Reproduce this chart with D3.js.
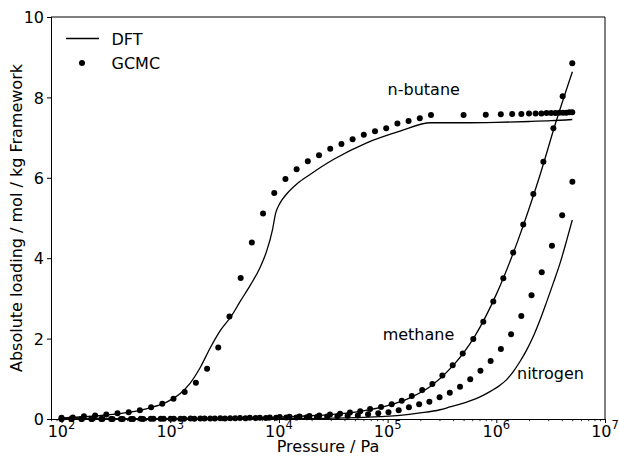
<!DOCTYPE html>
<html>
<head>
<meta charset="utf-8">
<script src="https://cdn.jsdelivr.net/npm/d3@7"></script>
<style>
  html, body { margin: 0; padding: 0; background: #fff; }
  svg { display: block; font-family: "DejaVu Sans", sans-serif; }
</style>
</head>
<body>
<svg id="chart" width="619" height="456"></svg>
<script>
// ---------- data ----------
const xTickValues = [1e2, 1e3, 1e4, 1e5, 1e6, 1e7];
const xTickExponents = ["2", "3", "4", "5", "6", "7"];
const yTickValues = [0, 2, 4, 6, 8, 10];

// n-butane GCMC
const butaneGcmcP = [100, 126.8, 160.7, 203.7, 258.2, 327.3, 415.0, 526.0, 666.8, 845.3,
  1071.5, 1358.3, 1721.9, 2182.7, 2766.9, 3507.5, 4446.3, 5636.4, 7144.9, 9057.3,
  11482, 14555, 18450, 23388, 29648, 37584, 47643, 60395, 76560, 97051,
  123027, 155955, 197697, 250611,
  5e5, 8e5, 1.1e6, 1.4e6, 1.7e6, 2.0e6, 2.3e6, 2.6e6, 2.9e6, 3.2e6, 3.5e6, 3.8e6, 4.1e6, 4.4e6, 4.7e6, 5.0e6];
const butaneGcmcN = [0.03, 0.04, 0.07, 0.09, 0.11, 0.14, 0.17, 0.22, 0.29, 0.38,
  0.505, 0.67, 0.90, 1.25, 1.78, 2.55, 3.51, 4.39, 5.11, 5.62,
  5.97, 6.21, 6.41, 6.56, 6.72, 6.84, 6.96, 7.07, 7.16, 7.23,
  7.35, 7.41, 7.48, 7.56,
  7.56, 7.57, 7.58, 7.59, 7.59, 7.60, 7.60, 7.60, 7.61, 7.61, 7.61, 7.62, 7.62, 7.62, 7.63, 7.63];

// n-butane DFT
const butaneDftP = [100, 263, 427, 676, 871, 1000, 1230, 1514, 1905, 2344, 2884, 3631, 4416, 5458,
  6761, 7762, 8710, 9333, 10233, 11885, 14791, 19498, 31989, 64270, 130000, 250000,
  5e5, 1e6, 2e6, 3.2e6, 5e6];
const butaneDftN = [0.03, 0.10, 0.17, 0.29, 0.39, 0.47, 0.63, 0.88, 1.30, 1.78, 2.20, 2.55, 2.93, 3.33,
  3.79, 4.20, 4.70, 5.12, 5.37, 5.61, 5.86, 6.09, 6.46, 6.87, 7.16, 7.37,
  7.37, 7.38, 7.40, 7.42, 7.45];

// methane GCMC
const methaneGcmcP = [100, 123, 152, 188, 232, 286, 352, 435, 537, 662, 817, 1007, 1242, 1535, 1892,
  2333, 2884, 3556, 4385, 5408, 6683, 8241, 10162, 12531, 15488, 19098,
  23500, 29500, 36500, 45000, 56000, 69000, 87000, 109000, 135000, 167000, 208000, 258000,
  319000, 397000, 491000, 614000, 759000, 938000, 1160000, 1430000, 1770000, 2190000,
  2710000, 3350000, 4080000, 5000000];
const methaneGcmcN = [0.001, 0.001, 0.001, 0.001, 0.002, 0.002, 0.003, 0.003, 0.004, 0.005, 0.006, 0.007, 0.008, 0.01, 0.012,
  0.014, 0.017, 0.02, 0.024, 0.029, 0.034, 0.04, 0.047, 0.055, 0.065, 0.075,
  0.09, 0.11, 0.13, 0.16, 0.19, 0.25, 0.30, 0.365, 0.455, 0.57, 0.72, 0.87,
  1.08, 1.34, 1.63, 1.99, 2.42, 2.92, 3.50, 4.14, 4.84, 5.60,
  6.40, 7.23, 8.03, 8.85];

// methane DFT
const methaneDftP = [100, 1000, 3162, 10000, 17783, 31623, 56234, 100000, 158489, 251189, 398107,
  630957, 1e6, 1584893, 2511886, 3548134, 5011872];
const methaneDftN = [0.0, 0.01, 0.02, 0.045, 0.075, 0.115, 0.19, 0.33, 0.52, 0.82, 1.32,
  2.05, 3.10, 4.45, 6.05, 7.40, 8.64];

// nitrogen GCMC
const nitrogenGcmcP = [100, 124, 154, 191, 238, 295, 366, 455, 565, 701,
  871, 1081, 1342, 1667, 2070, 2570, 3191, 3962, 4920, 6109,
  7586, 9419, 11695, 14521, 18031, 22387, 27797, 34514, 42855, 53211,
  66069, 82035, 101860, 126474, 157036, 194984, 242103, 300608, 373250, 463447,
  575440, 714496, 887156, 1101539, 1367729, 1698244, 2108628, 2618183, 3250873, 4036454, 5011872];
const nitrogenGcmcN = [0.0, 0.001, 0.001, 0.001, 0.001, 0.002, 0.002, 0.003, 0.003, 0.004,
  0.005, 0.006, 0.007, 0.008, 0.01, 0.012, 0.014, 0.016, 0.019, 0.022,
  0.026, 0.03, 0.035, 0.04, 0.045, 0.05, 0.06, 0.07, 0.08, 0.09,
  0.12, 0.14, 0.17, 0.22, 0.29, 0.37, 0.43, 0.54, 0.65, 0.80,
  0.99, 1.20, 1.44, 1.74, 2.11, 2.56, 3.08, 3.65, 4.31, 5.07, 5.90];

// nitrogen DFT
const nitrogenDftP = [100, 1000, 1e4, 31623, 85000, 130000, 199000, 303000, 375000, 533000, 708000, 875000,
  1081000, 1245000, 1432000, 1652000, 1905000, 2188000, 2523000, 2911000, 3342000, 3855000, 4446000, 5000000];
const nitrogenDftN = [0.0, 0.001, 0.007, 0.02, 0.06, 0.09, 0.15, 0.23, 0.30, 0.42, 0.55, 0.68,
  0.84, 0.98, 1.18, 1.43, 1.72, 2.05, 2.46, 2.92, 3.38, 3.87, 4.45, 4.95];

const annotations = [
  {text: "n-butane", p: 1.0e5, n: 8.05},
  {text: "methane", p: 9.0e4, n: 1.97},
  {text: "nitrogen", p: 1.55e6, n: 1.0}
];

// ---------- layout ----------
(function () {
const svg = d3.select("#chart");
const mL = 51, mR = 605, mT = 17, mB = 419;
const x = d3.scaleLog().domain([80, 1e7]).range([mL, mR]);
const y = d3.scaleLinear().domain([0, 10]).range([mB, mT]);
const fs = 16;

const zip = (a, b) => a.map((v, i) => [v, b[i]]);
const line = d3.line().x(d => x(d[0])).y(d => y(d[1])).curve(d3.curveMonotoneX);

const plot = svg.append("g");
const lineSeries = [zip(butaneDftP, butaneDftN), zip(methaneDftP, methaneDftN), zip(nitrogenDftP, nitrogenDftN)];
plot.selectAll("path.dft").data(lineSeries).join("path")
  .attr("class", "dft").attr("d", line)
  .attr("fill", "none").attr("stroke", "#000").attr("stroke-width", 1.3);

const pts = [].concat(zip(butaneGcmcP, butaneGcmcN), zip(methaneGcmcP, methaneGcmcN), zip(nitrogenGcmcP, nitrogenGcmcN));
plot.selectAll("circle.gcmc").data(pts).join("circle")
  .attr("class", "gcmc")
  .attr("cx", d => x(d[0])).attr("cy", d => y(d[1])).attr("r", 3)
  .attr("fill", "#000");

svg.selectAll("text.ann").data(annotations).join("text")
  .attr("class", "ann")
  .attr("x", d => x(d.p)).attr("y", d => y(d.n))
  .attr("font-size", fs).attr("fill", "#000")
  .text(d => d.text);

// ---------- axes ----------
const xAxis = d3.axisBottom(x).tickValues(xTickValues).tickSize(4).tickFormat("");
const gx = svg.append("g").attr("transform", `translate(0,${mB})`).call(xAxis);
gx.select(".domain").remove();
gx.selectAll("line").attr("stroke", "#000").attr("stroke-width", 1);

const minor = [];
for (let e = 1; e < 7; e++) for (let m = 2; m <= 9; m++) {
  const v = m * Math.pow(10, e);
  if (v >= 80 && v <= 1e7) minor.push(v);
}
const xMinor = d3.axisBottom(x).tickValues(minor).tickSize(2.2).tickFormat("");
const gxm = svg.append("g").attr("transform", `translate(0,${mB})`).call(xMinor);
gxm.select(".domain").remove();
gxm.selectAll("line").attr("stroke", "#000").attr("stroke-width", 0.8);

const xl = svg.append("g").selectAll("text").data(xTickValues).join("text")
  .attr("x", d => x(d)).attr("y", 437)
  .attr("text-anchor", "middle").attr("font-size", fs).attr("fill", "#000");
xl.append("tspan").text("10");
xl.append("tspan").attr("dy", -8).attr("font-size", 11.5).text((d, i) => xTickExponents[i]);

const yAxis = d3.axisLeft(y).tickValues(yTickValues).tickSize(4).tickPadding(3).tickFormat(d3.format("d"));
const gy = svg.append("g").attr("transform", `translate(${mL},0)`).call(yAxis);
gy.select(".domain").remove();
gy.selectAll("line").attr("stroke", "#000");
gy.selectAll("text").attr("font-size", fs).attr("fill", "#000")
  .attr("font-family", "DejaVu Sans").attr("dy", "0.36em");

// frame: left/bottom crisp black, top/right softer
svg.append("line").attr("x1", mL + 0.5).attr("x2", mL + 0.5).attr("y1", mT).attr("y2", mB + 0.5)
  .attr("stroke", "#000").attr("stroke-width", 1);
svg.append("line").attr("x1", mL).attr("x2", mR).attr("y1", mB + 0.5).attr("y2", mB + 0.5)
  .attr("stroke", "#000").attr("stroke-width", 1);
svg.append("line").attr("x1", mL).attr("x2", mR).attr("y1", mT).attr("y2", mT)
  .attr("stroke", "#000").attr("stroke-width", 1);
svg.append("line").attr("x1", mR).attr("x2", mR).attr("y1", mT).attr("y2", mB + 1)
  .attr("stroke", "#000").attr("stroke-width", 1);

svg.append("text").attr("x", (mL + mR) / 2).attr("y", 452)
  .attr("text-anchor", "middle").attr("font-size", fs).attr("fill", "#000")
  .text("Pressure / Pa");
svg.append("text").attr("transform", `translate(22,${(mT + mB) / 2}) rotate(-90)`)
  .attr("text-anchor", "middle").attr("font-size", fs).attr("fill", "#000")
  .text("Absolute loading / mol / kg Framework");

const lg = svg.append("g");
lg.append("line").attr("x1", 66).attr("x2", 99).attr("y1", 38.5).attr("y2", 38.5)
  .attr("stroke", "#000").attr("stroke-width", 1.3);
lg.append("text").attr("x", 111.5).attr("y", 44.5).attr("font-size", fs).text("DFT");
lg.append("circle").attr("cx", 82).attr("cy", 63).attr("r", 3).attr("fill", "#000");
lg.append("text").attr("x", 111.5).attr("y", 68.5).attr("font-size", fs).text("GCMC");
})();
</script>
</body>
</html>
